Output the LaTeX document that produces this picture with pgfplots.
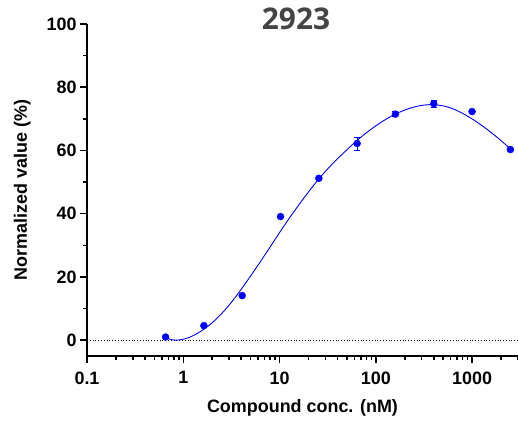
\documentclass[border=0pt]{standalone}
\usepackage{pgfplots}
\pgfplotsset{compat=1.18}
\usepackage{fontspec}
\setmainfont{Liberation Sans}
\newfontfamily\titlefont{Open Sans}
\definecolor{ptblue}{RGB}{0,0,255}
\definecolor{titlegray}{RGB}{68,68,68}
\begin{document}
\begin{tikzpicture}
\begin{axis}[
  scale only axis, width=431bp, height=332bp,
  xmode=log, xmin=0.1, xmax=3000,
  ymin=-5, ymax=100,
  axis x line*=bottom, axis y line*=left,
  axis line style={line width=1.5bp, -},
  xtick={0.1,1,10,100,1000}, xticklabels={0.1,1,10,100,1000},
  ytick={0,20,40,60,80,100},
  /pgf/number format/assume math mode=true,
  tick align=outside,
  major tick length=7bp,
  tick style={draw=none},
  tick label style={font=\bfseries\fontsize{18}{20}\selectfont},
  xticklabel style={yshift=-5bp},
  xlabel={Compound conc. (nM)}, ylabel={Normalized value (\%)},
  label style={font=\bfseries\fontsize{18}{20}\selectfont},
  xlabel style={yshift=-8bp},
  ylabel shift=9bp,
  clip=false,
]
\coordinate (bbll) at (rel axis cs:0,0);
\coordinate (bbur) at (rel axis cs:1,1);
% axis tick marks
\pgfplotsinvokeforeach{0.1,1,10,100,1000}{\draw[black,line width=1.5bp] (axis cs:#1,-5) -- ([yshift=-7bp]axis cs:#1,-5);}
\pgfplotsinvokeforeach{0.2,0.3,0.4,0.5,0.6,0.7,0.8,0.9,2,3,4,5,6,7,8,9,20,30,40,50,60,70,80,90,200,300,400,500,600,700,800,900,2000,3000}{\draw[black,line width=1.5bp] (axis cs:#1,-5) -- ([yshift=-4bp]axis cs:#1,-5);}
\pgfplotsinvokeforeach{0,20,40,60,80,100}{\draw[black,line width=1.5bp] (axis cs:0.1,#1) -- ([xshift=-7bp]axis cs:0.1,#1);}
\pgfplotsinvokeforeach{10,30,50,70,90}{\draw[black,line width=1.5bp] (axis cs:0.1,#1) -- ([xshift=-4bp]axis cs:0.1,#1);}
\addplot[black, dotted, line width=0.8bp] coordinates {(0.1,0) (3000,0)};
\addplot[ptblue, line width=0.9bp, smooth] coordinates {
(0.66,0.8) (0.75,0.2) (0.85,0) (1.0,0.3) (1.2,1.1) (1.5,2.7) (2.0,5.5) (2.7,9.5) (3.5,13.7)
(4.5,18.3) (6,23.8) (8,29.5) (10.5,35) (14,40.5) (19,46) (25.6,51) (35,55.6) (50,60.2) (70,64.2)
(100,67.8) (140,70.6) (200,72.8) (280,74.1) (380,74.5) (520,74) (700,72.6) (1000,70) (1400,66.9) (1900,63.7) (2500,60.5)};
\addplot[ptblue, only marks, mark=*, mark size=3.5bp,
  error bars/.cd, y dir=both, y explicit, error bar style={ptblue, line width=0.9bp}, error mark options={rotate=90, mark size=3bp, ptblue}]
  table[x=x, y=y, y error=e] {
x y e
0.655 1.0 0
1.638 4.6 0
4.096 14.1 0
10.24 39.1 0
25.6 51.2 0
64 62.2 2.0
160 71.5 0.8
400 74.8 1.0
1000 72.3 0
2500 60.3 0
};
\node[anchor=base, font=\titlefont\bfseries\fontsize{30}{32}\selectfont, text=titlegray] at ([yshift=-6bp]rel axis cs:0.485,1) {2923};
\end{axis}
\pgfresetboundingbox
\path ([xshift=-87bp,yshift=-66bp]bbll) rectangle ([yshift=24bp]bbur);
\end{tikzpicture}
\end{document}
